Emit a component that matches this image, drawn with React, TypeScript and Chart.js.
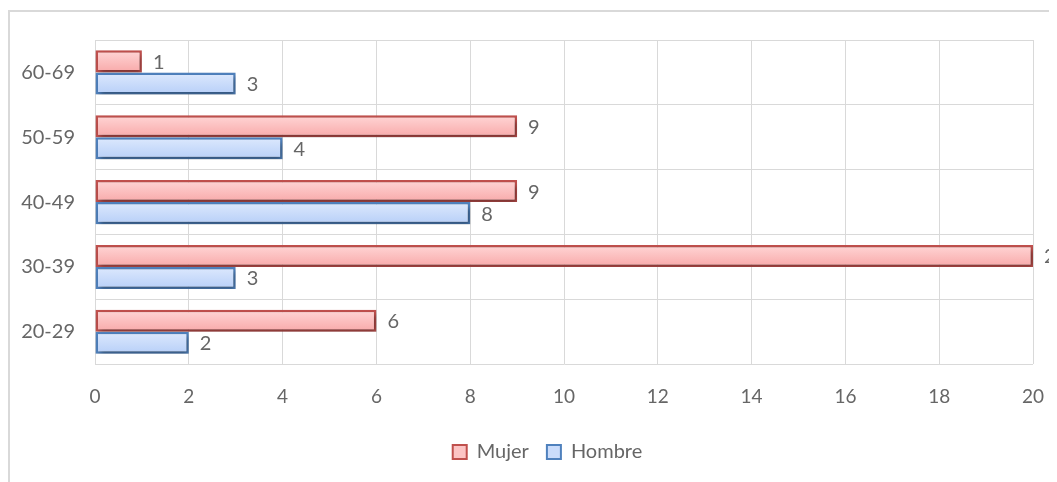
import React, { useEffect, useRef } from "react";
import { Chart, registerables } from "chart.js";

Chart.register(...registerables);

const categories = ["60-69", "50-59", "40-49", "30-39", "20-29"];
const mujer = [1, 9, 9, 20, 6];
const hombre = [3, 4, 8, 3, 2];
const seriesNames = ["Mujer", "Hombre"];
const xTicks = [0, 2, 4, 6, 8, 10, 12, 14, 16, 18, 20];

const FONT = "Lato, 'Open Sans', sans-serif";
const TEXT = "#666666";
const CAT_PCT = 0.68;

const styles = [
  { border: "#c0504d", top: "#ffd6d6", bottom: "#f8a9a9", flat: "#fcc4c4" },
  { border: "#4f81bd", top: "#dde9fd", bottom: "#b7cff8", flat: "#cadcfb" },
];

function gradFill(ctx: any) {
  const chart = ctx.chart;
  const s = styles[ctx.datasetIndex];
  const ys = chart.scales && chart.scales.y;
  if (!ys || !chart.chartArea || ctx.dataIndex === undefined) return s.flat;
  const center = ys.getPixelForValue(ctx.dataIndex);
  const cat = (ys.bottom - ys.top) / categories.length;
  const full = cat * CAT_PCT;
  const bw = full / 2;
  const top = center - full / 2 + ctx.datasetIndex * bw;
  if (!isFinite(top)) return s.flat;
  const g = chart.ctx.createLinearGradient(0, top, 0, top + bw);
  g.addColorStop(0, s.top);
  g.addColorStop(1, s.bottom);
  return g;
}

const shadowPlugin = {
  id: "barShadow",
  beforeDatasetsDraw(chart: any) {
    const c = chart.ctx;
    c.save();
    c.shadowColor = "rgba(0,0,0,0.4)";
    c.shadowBlur = 5;
    c.shadowOffsetX = 2;
    c.shadowOffsetY = 3;
  },
  afterDatasetsDraw(chart: any) {
    chart.ctx.restore();
  },
};

const legendShift = {
  id: "legendShift",
  afterLayout(chart: any) {
    if (chart.legend) {
      chart.legend.left += 21;
      chart.legend.right += 21;
    }
  },
};

const labelPlugin = {
  id: "valueLabels",
  afterDatasetsDraw(chart: any) {
    const c = chart.ctx;
    c.save();
    c.font = `20px ${FONT}`;
    c.fillStyle = TEXT;
    c.textBaseline = "middle";
    c.textAlign = "left";
    chart.data.datasets.forEach((ds: any, i: number) => {
      const meta = chart.getDatasetMeta(i);
      meta.data.forEach((el: any, j: number) => {
        c.fillText(String(ds.data[j]), el.x + 11, el.y + 1);
      });
    });
    c.restore();
  },
};

export default function App() {
  const ref = useRef<HTMLCanvasElement>(null);
  useEffect(() => {
    if (!ref.current) return;
    const chart = new Chart(ref.current, {
      type: "bar",
      data: {
        labels: categories,
        datasets: [
          {
            label: seriesNames[0],
            data: mujer,
            backgroundColor: gradFill,
            borderColor: styles[0].border,
            borderWidth: 2.5,
            borderSkipped: false,
            categoryPercentage: CAT_PCT,
            barPercentage: 1,
          },
          {
            label: seriesNames[1],
            data: hombre,
            backgroundColor: gradFill,
            borderColor: styles[1].border,
            borderWidth: 2.5,
            borderSkipped: false,
            categoryPercentage: CAT_PCT,
            barPercentage: 1,
          },
        ],
      },
      options: {
        indexAxis: "y",
        animation: false,
        responsive: false,
        maintainAspectRatio: false,
        layout: { padding: { top: 28, right: 24, left: 10, bottom: 10 } },
        scales: {
          x: {
            min: 0,
            max: 20,
            afterBuildTicks: (s: any) => {
              s.ticks = xTicks.map((v) => ({ value: v }));
            },
            afterFit: (s: any) => {
              s.height += 11;
            },
            grid: {
              color: "#d9d9d9",
              drawTicks: true,
              tickLength: 16,
              tickColor: "rgba(0,0,0,0)",
              lineWidth: 1,
            },
            border: { display: false },
            ticks: {
              color: TEXT,
              font: { size: 19, family: FONT },
              padding: 5,
            },
          },
          y: {
            grid: {
              color: "#d9d9d9",
              drawTicks: true,
              tickLength: 18,
              tickColor: "rgba(0,0,0,0)",
              offset: true,
            },
            border: { display: true, color: "#d9d9d9" },
            ticks: {
              color: TEXT,
              font: { size: 20, family: FONT },
              padding: 2,
            },
            afterFit: (s: any) => {
              s.width = 75;
            },
          },
        },
        plugins: {
          tooltip: { enabled: false },
          legend: {
            position: "bottom",
            labels: {
              color: TEXT,
              font: { size: 20, family: FONT },
              boxWidth: 14,
              boxHeight: 14,
              padding: 18,
              generateLabels: () =>
                seriesNames.map((n, i) => ({
                  text: n,
                  fillStyle: styles[i].flat,
                  strokeStyle: styles[i].border,
                  lineWidth: 2,
                  fontColor: TEXT,
                  datasetIndex: i,
                  hidden: false,
                })),
            },
          },
        },
      },
      plugins: [shadowPlugin, labelPlugin, legendShift],
    } as any);
    return () => chart.destroy();
  }, []);
  return (
    <div
      style={{
        position: "relative",
        top: 2,
        width: 1060,
        height: 480,
        borderTop: "2px solid #d9d9d9",
        borderLeft: "2px solid #d9d9d9",
        boxSizing: "border-box",
        overflow: "hidden",
      }}
    >
      <canvas ref={ref} width={1047} height={470} style={{ display: "block" }} />
    </div>
  );
}
